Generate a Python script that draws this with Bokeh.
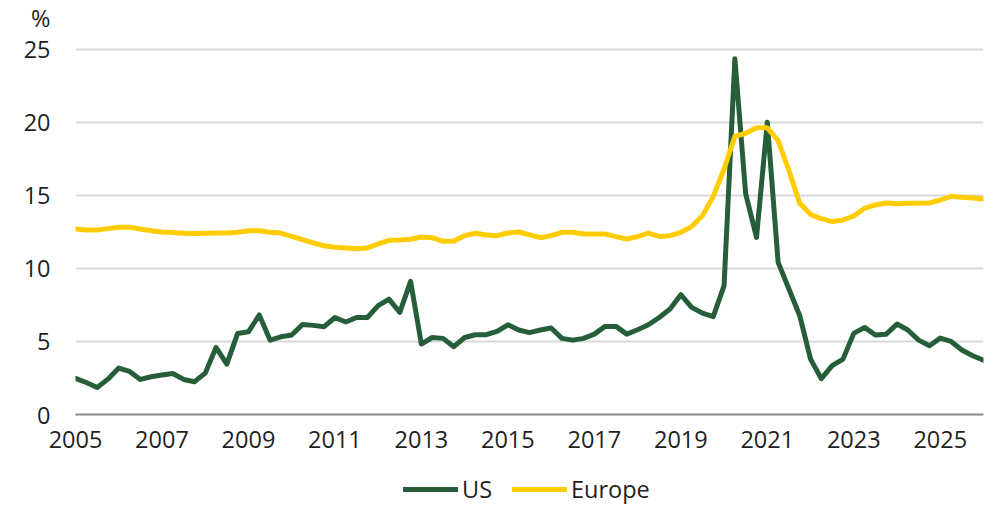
from bokeh.plotting import figure
from bokeh.layouts import column
from bokeh.models import Range1d, FixedTicker, Legend, LegendItem, ColumnDataSource
from bokeh.embed import file_html
from bokeh.resources import INLINE

# Quarterly data, 2005Q1 .. 2026Q1 (index 0..84)
years = ["2005", "2007", "2009", "2011", "2013", "2015", "2017", "2019", "2021", "2023", "2025"]
year_ticks = [0, 8, 16, 24, 32, 40, 48, 56, 64, 72, 80]

us = [2.47, 2.19, 1.85, 2.42, 3.18, 2.95, 2.40, 2.58, 2.70, 2.81,
      2.40, 2.24, 2.83, 4.59, 3.45, 5.55, 5.66, 6.81, 5.09, 5.32,
      5.44, 6.16, 6.10, 6.01, 6.64, 6.33, 6.64, 6.64, 7.45, 7.90,
      6.99, 9.11, 4.82, 5.27, 5.21, 4.64, 5.27, 5.46, 5.46, 5.69,
      6.14, 5.78, 5.60, 5.78, 5.92, 5.21, 5.09, 5.21, 5.50, 6.03,
      6.03, 5.50, 5.80, 6.14, 6.64, 7.22, 8.20, 7.33, 6.94, 6.70,
      8.82, 24.34, 15.10, 12.12, 20.00, 10.41, 8.59, 6.76, 3.79, 2.45,
      3.34, 3.79, 5.55, 5.96, 5.44, 5.50, 6.19, 5.78, 5.09, 4.71,
      5.23, 5.00, 4.41, 4.02, 3.72]

europe = [12.70, 12.63, 12.63, 12.72, 12.81, 12.81, 12.70, 12.58, 12.49, 12.45,
          12.40, 12.38, 12.40, 12.42, 12.42, 12.47, 12.58, 12.58, 12.47, 12.42,
          12.19, 11.97, 11.74, 11.55, 11.44, 11.40, 11.35, 11.40, 11.67, 11.92,
          11.94, 11.99, 12.15, 12.10, 11.85, 11.87, 12.24, 12.40, 12.29, 12.24,
          12.42, 12.49, 12.29, 12.10, 12.24, 12.47, 12.47, 12.35, 12.35, 12.35,
          12.17, 12.01, 12.17, 12.42, 12.19, 12.24, 12.47, 12.86, 13.61, 14.92,
          16.80, 19.04, 19.25, 19.62, 19.62, 18.75, 16.69, 14.45, 13.70, 13.40,
          13.20, 13.31, 13.59, 14.11, 14.34, 14.48, 14.43, 14.45, 14.45, 14.48,
          14.68, 14.93, 14.86, 14.82, 14.75]

y_ticks = [0, 5, 10, 15, 20, 25]
unit_label = "%"
series_names = ["US", "Europe"]
series_fields = ["us", "europe"]
series_colors = ["#265e3a", "#ffcc00"]

FONT = "Open Sans"
TXT = "#1f1f1f"
FS = "23.5px"
W = 993
Y_TOP = 27.17          # headroom above 25 where the unit label sits

idx = list(range(len(us)))
src = ColumnDataSource(dict(x=idx, us=us, europe=europe))

# ---- main chart
p = figure(width=W, height=466, output_backend="svg", toolbar_location=None,
           x_range=Range1d(0, 84), y_range=Range1d(0, Y_TOP),
           min_border_left=75, min_border_right=10, min_border_top=17, min_border_bottom=52)
p.outline_line_color = None
p.background_fill_color = "white"
p.border_fill_color = "white"

p.xgrid.grid_line_color = None
p.ygrid.grid_line_color = "#d9d9d9"
p.ygrid.grid_line_width = 2
p.ygrid.ticker = FixedTicker(ticks=y_ticks)

p.yaxis.ticker = FixedTicker(ticks=y_ticks + [Y_TOP])
p.yaxis.major_label_overrides = {Y_TOP: unit_label}
p.yaxis.axis_line_color = None
p.yaxis.major_tick_line_color = None
p.yaxis.minor_tick_line_color = None
p.yaxis.major_tick_out = 0
p.yaxis.major_tick_in = 0
p.yaxis.major_label_standoff = 25
p.yaxis.major_label_text_font = FONT
p.yaxis.major_label_text_font_size = FS
p.yaxis.major_label_text_color = TXT

p.xaxis.ticker = FixedTicker(ticks=year_ticks)
p.xaxis.major_label_overrides = {t: y for t, y in zip(year_ticks, years)}
p.xaxis.axis_line_color = "#8a8a8a"
p.xaxis.axis_line_width = 2
p.xaxis.major_tick_line_color = None
p.xaxis.minor_tick_line_color = None
p.xaxis.major_tick_out = 0
p.xaxis.major_tick_in = 0
p.xaxis.major_label_standoff = 16
p.xaxis.major_label_text_font = FONT
p.xaxis.major_label_text_font_size = FS
p.xaxis.major_label_text_color = TXT

for f, c in zip(series_fields, series_colors):
    p.line("x", f, source=src, line_color=c, line_width=5,
           line_join="round", line_cap="round")

# ---- legend strip (series drawn out of view; only the legend shows)
leg = figure(width=W, height=41, output_backend="svg", toolbar_location=None,
             x_range=Range1d(0, 84), y_range=Range1d(-2, -1),
             x_axis_location=None, y_axis_location=None,
             min_border_left=75, min_border_right=10, min_border_top=0, min_border_bottom=0)
leg.outline_line_color = None
leg.xgrid.grid_line_color = None
leg.ygrid.grid_line_color = None
leg.background_fill_color = "white"
leg.border_fill_color = "white"
items = []
for name, f, c in zip(series_names, series_fields, series_colors):
    r = leg.line("x", f, source=src, line_color=c, line_width=5, line_cap="round")
    items.append(LegendItem(label=name, renderers=[r]))
legend = Legend(items=items, orientation="horizontal", location=(328, 2),
                glyph_width=55, glyph_height=24, label_height=24,
                label_standoff=4, spacing=20, padding=0, margin=0,
                border_line_color=None, background_fill_alpha=0,
                label_text_font=FONT, label_text_font_size=FS, label_text_color=TXT)
leg.add_layout(legend)

layout = column(p, leg, spacing=0)
open("out.html", "w").write(file_html(layout, INLINE))
